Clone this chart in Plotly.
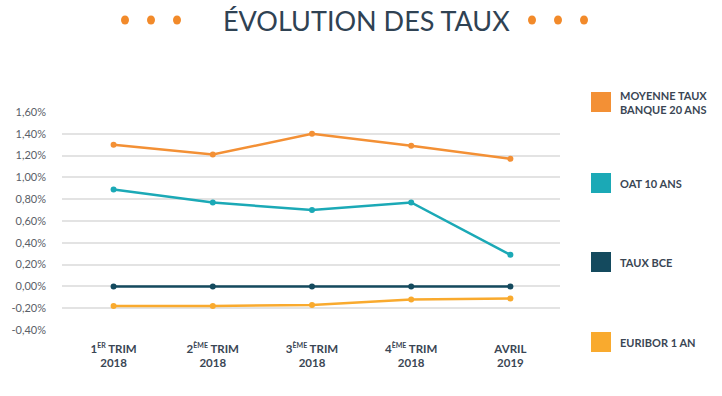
import plotly.graph_objects as go

SUP = "<sup><span style='font-size:7px'>{}</span></sup>"
categories = ["1" + SUP.format("ER") + " TRIM<br>2018", "2" + SUP.format("ÈME") + " TRIM<br>2018",
              "3" + SUP.format("ÈME") + " TRIM<br>2018", "4" + SUP.format("ÈME") + " TRIM<br>2018",
              "AVRIL<br>2019"]
series_names = ["MOYENNE TAUX<br>BANQUE 20 ANS", "OAT 10 ANS", "TAUX BCE", "EURIBOR 1 AN"]
moyenne = [1.30, 1.21, 1.40, 1.29, 1.17]
oat = [0.89, 0.77, 0.70, 0.77, 0.29]
bce = [0.0, 0.0, 0.0, 0.0, 0.0]
euribor = [-0.18, -0.18, -0.17, -0.12, -0.11]
y_tickvals = [1.6, 1.4, 1.2, 1.0, 0.8, 0.6, 0.4, 0.2, 0.0, -0.2, -0.4]
y_ticktext = ["1,60%", "1,40%", "1,20%", "1,00%", "0,80%", "0,60%", "0,40%", "0,20%", "0,00%", "-0,20%", "-0,40%"]

colors = ["#F39035", "#1BA9B6", "#144A5E", "#F9AA2E"]
values = [moyenne, oat, bce, euribor]

W, H = 722, 396
L, R, T, B = 62, 162, 112, 66
PW, PH = W - L - R, H - T - B

def px_x(px):
    return (px - L) / PW

def px_y(py):
    return (H - B - py) / PH

fig = go.Figure()
for name, vals, col in zip(series_names, values, colors):
    fig.add_trace(go.Scatter(
        x=list(range(len(categories))), y=vals, mode="lines+markers", name=name,
        line=dict(color=col, width=2.5), marker=dict(color=col, size=6),
        showlegend=False, cliponaxis=False))

shapes = []
annotations = []
legend_y = [102, 183, 262, 342]
for name, col, cy in zip(series_names, colors, legend_y):
    shapes.append(dict(type="rect", xref="paper", yref="paper",
                       x0=px_x(591), x1=px_x(611), y0=px_y(cy + 10), y1=px_y(cy - 10),
                       fillcolor=col, line=dict(width=0)))
    annotations.append(dict(xref="paper", yref="paper", x=px_x(618), y=px_y(cy),
                            xanchor="left", yanchor="middle", align="left", showarrow=False,
                            text=name, font=dict(family="Lato", size=11, color="#3A4654", weight=700)))

# decorative title dots
for dx in [125, 151, 177, 532, 558, 584]:
    shapes.append(dict(type="circle", xref="paper", yref="paper",
                       xsizemode="pixel", ysizemode="pixel",
                       xanchor=px_x(dx), yanchor=px_y(20),
                       x0=-4, x1=4, y0=-4.5, y1=4.5,
                       fillcolor="#F28A2A", line=dict(width=0)))

annotations.append(dict(xref="paper", yref="paper", x=px_x(366), y=px_y(20),
                        xanchor="center", yanchor="middle", showarrow=False,
                        text="ÉVOLUTION DES TAUX",
                        font=dict(family="Lato", size=27, color="#2F4253")))

fig.update_layout(
    width=W, height=H,
    margin=dict(l=L, r=R, t=T, b=B),
    paper_bgcolor="white", plot_bgcolor="white",
    shapes=shapes, annotations=annotations,
    hovermode=False,
    xaxis=dict(tickvals=list(range(len(categories))), ticktext=categories,
               range=[-0.52, 4.5], showgrid=False, zeroline=False, showline=False,
               ticks="", ticklabelstandoff=10,
               tickfont=dict(family="Lato", size=11.5, color="#3A4654", weight=700)),
    yaxis=dict(tickvals=y_tickvals, ticktext=y_ticktext, range=[-0.4, 1.6],
               showgrid=True, gridcolor="#E3E3E3", gridwidth=1.5, zeroline=False,
               showline=False, ticks="", ticklabelstandoff=15,
               tickfont=dict(family="Lato", size=11, color="#5A6068")),
)

fig.write_html("out.html", config={"displayModeBar": False},
               post_script="document.body.style.margin='0px';")
